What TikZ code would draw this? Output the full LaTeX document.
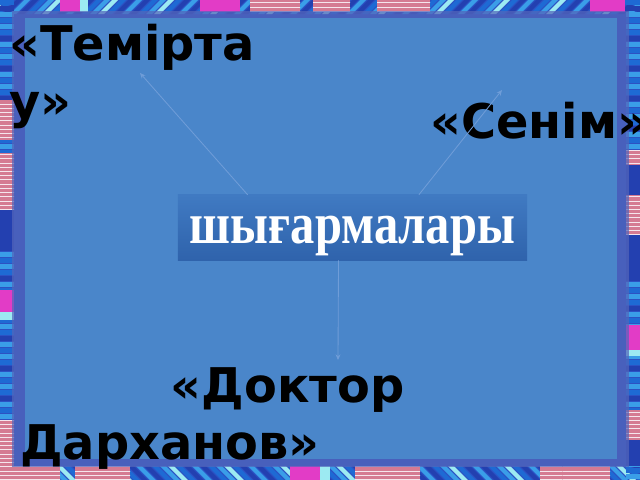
\documentclass[tikz,border=0pt]{standalone}
\usepackage{fontspec}
\setmainfont{DejaVu Sans}
\newfontfamily\serifbox{Liberation Serif}
\usetikzlibrary{positioning, calc, arrows.meta, patterns}

\definecolor{slideblue}{HTML}{4A86CA}
\definecolor{framepurple}{HTML}{5466BA}
\definecolor{boxtop}{HTML}{407AC2}
\definecolor{boxbottom}{HTML}{2F63AC}
\definecolor{linkblue}{HTML}{6F9DD8}
\definecolor{stripebase}{HTML}{2C52C4}
\definecolor{stripeA}{HTML}{3A9EE8}
\definecolor{stripeB}{HTML}{2340B0}
\definecolor{stripeC}{HTML}{E23CC6}
\definecolor{stripeD}{HTML}{9CEAF2}
\definecolor{stripeG}{HTML}{1E6AD4}
\definecolor{stripepink}{HTML}{D57A92}
\definecolor{stripewhite}{HTML}{F6E4EC}

\tikzset{
  title/.style={font=\fontsize{34}{41}\selectfont\bfseries, text=black, inner sep=0pt, align=left},
  worksbox/.style={top color=boxtop, bottom color=boxbottom, text=white,
    minimum width=8.725cm, minimum height=1.625cm, inner sep=0pt,
    font=\serifbox\bfseries\fontsize{34.5}{38}\selectfont},
  link/.style={draw=linkblue, line width=0.6pt, -{Stealth[length=4pt,width=3.5pt]}},
  pinkhatch/.style={fill=stripepink, postaction={pattern=horizontal lines, pattern color=stripewhite}}
}

\begin{document}
\begin{tikzpicture}[x=0.025cm,y=-0.025cm]
  \useasboundingbox (0,0) rectangle (640,480);

  % striped border
  \fill[stripebase] (0,0) rectangle (640,480);
  \foreach \x [count=\i] in {-24,-16,...,664} {
    \pgfmathparse{{"stripeA","stripeB","stripeG","stripeA","stripeD","stripeG","stripeB"}[mod(\i,7)]}
    \fill[\pgfmathresult] (\x,0) -- ++(6,0) -- ++(-14,14) -- ++(-6,0) -- cycle;
    \fill[\pgfmathresult] (\x,466) -- ++(6,0) -- ++(14,14) -- ++(-6,0) -- cycle;
  }
  \foreach \y [count=\i] in {0,6,...,480} {
    \pgfmathparse{{"stripeA","stripeG","stripeB","stripeA","stripeG"}[mod(\i,5)]}
    \fill[\pgfmathresult] (0,\y) rectangle (14,\y+5);
    \fill[\pgfmathresult] (626,\y) rectangle (640,\y+5);
  }
  \foreach \a/\b/\c/\d in {250/0/300/12, 313/0/350/12, 377/0/430/12, 0/100/14/140,
      0/153/14/210, 0/420/14/480, 626/150/640/165, 626/195/640/235, 626/410/640/440,
      0/466/60/480, 75/466/130/480, 355/466/420/480, 540/466/610/480}
    \fill[pinkhatch] (\a,\b) rectangle (\c,\d);
  \foreach \a/\b/\c/\d in {60/0/80/12, 200/0/240/12, 590/0/625/12, 0/290/14/312,
      626/325/640/350, 290/466/320/480}
    \fill[stripeC] (\a,\b) rectangle (\c,\d);
  \foreach \a/\b/\c/\d in {0/312/14/320, 626/350/640/356, 320/466/330/480, 80/0/88/12}
    \fill[stripeD] (\a,\b) rectangle (\c,\d);
  \foreach \a/\b/\c/\d in {0/210/14/250, 626/165/640/195, 626/235/640/280, 626/440/640/466}
    \fill[stripeB] (\a,\b) rectangle (\c,\d);

  % slide
  \fill[framepurple, opacity=0.72] (12,11) rectangle (629,467);
  \fill[slideblue] (25,18) rectangle (617,459);

  \node[worksbox] (works) at (352.5,227.5) {\raisebox{-11.7pt}[0pt][0pt]{\scalebox{1}[1.2]{шығармалары}}};

  \node[title, anchor=north west] (temirtau) at (9,24) {«Темірта\\у»};
  \node[title, anchor=base west] (senim) at (430,138) {«Сенім»};
  \node[title, anchor=north west] (doktor) at (20,367) {\hspace*{107pt}«Доктор\\Дарханов»};

  \coordinate (temirtip) at (140,73);
  \coordinate (senimtip) at (502,90);
  \coordinate (doktortip) at (338,360);

  \draw[link] ($(works.north west)!0.2!(works.north east)$) -- (temirtip);
  \draw[link] ($(works.north west)!0.69!(works.north east)$) -- (senimtip);
  \draw[link] ($(works.south west)!0.46!(works.south east)$) -- (doktortip);
\end{tikzpicture}
\end{document}
